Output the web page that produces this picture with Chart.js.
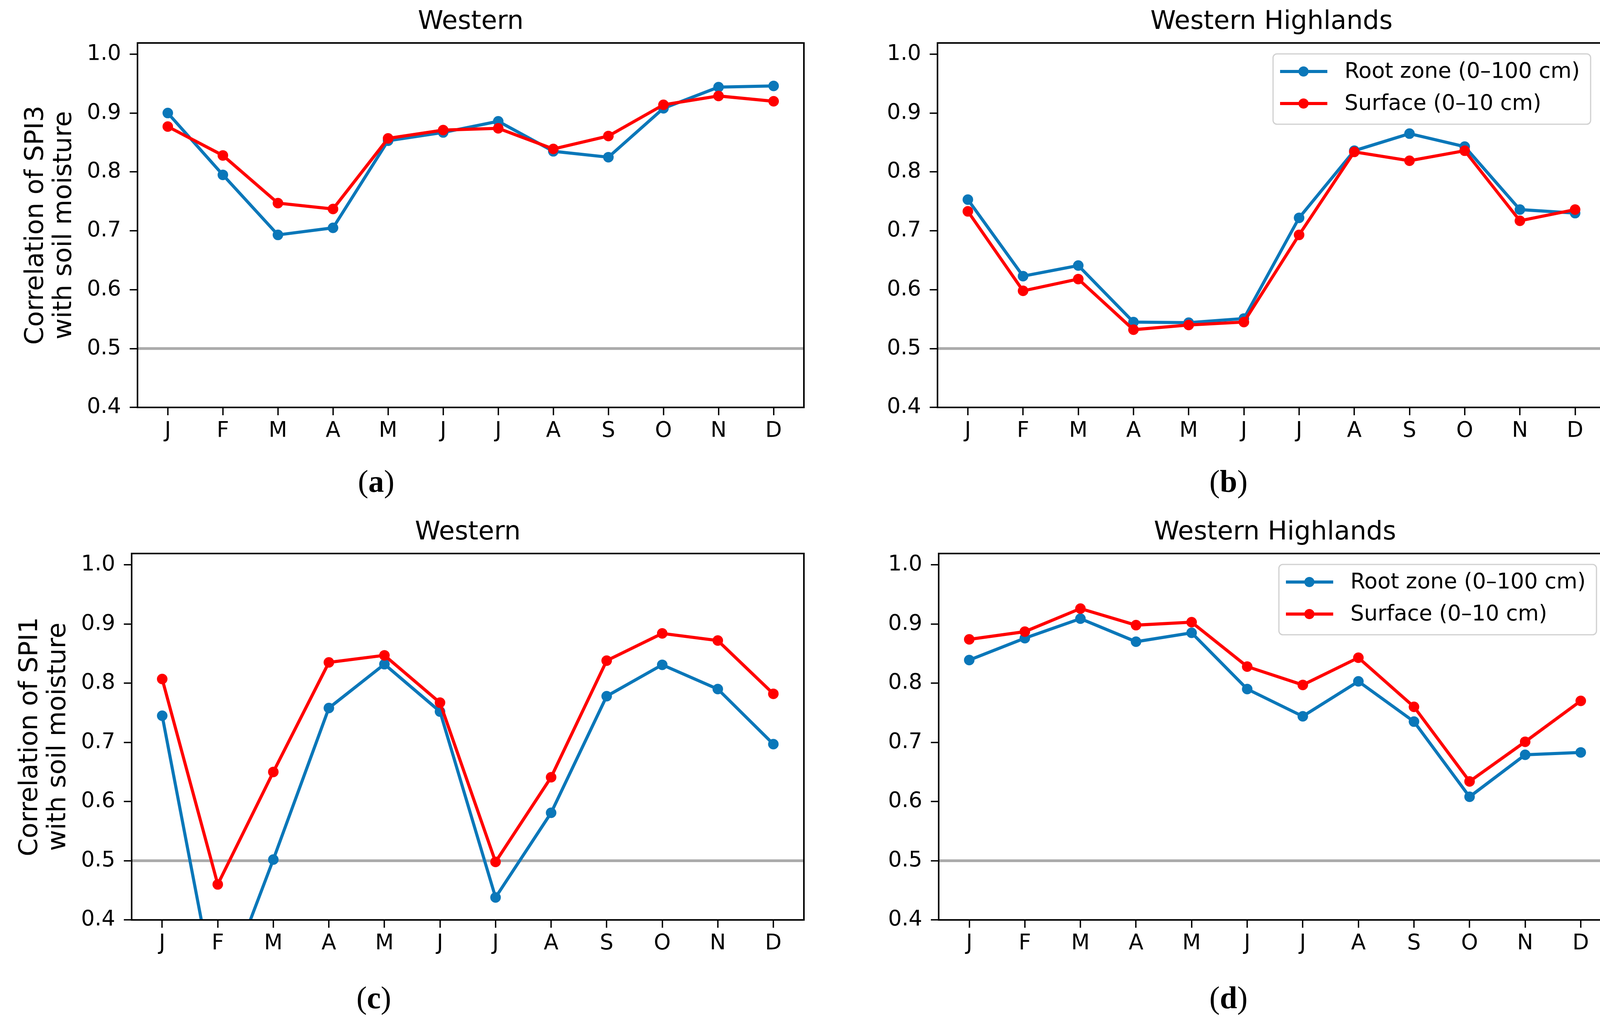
<!DOCTYPE html>
<html>
<head>
<meta charset="utf-8">
<script src="https://cdn.jsdelivr.net/npm/chart.js@4.4.1/dist/chart.umd.min.js"></script>
<style>
  body { margin: 0; background: #fff; width: 4162px; height: 2624px; position: relative; overflow: hidden; }
  canvas { position: absolute; }
  .sub { position: absolute; font-family: 'Liberation Serif', 'Times New Roman', serif; font-size: 80px;
         line-height: 1; transform: translate(-50%, -50%); color: #000; }
</style>
</head>
<body>
<canvas id="cA"></canvas>
<canvas id="cB"></canvas>
<canvas id="cC"></canvas>
<canvas id="cD"></canvas>
<div class="sub" style="left:963px; top:1232px">(<b>a</b>)</div>
<div class="sub" style="left:3145px; top:1232px">(<b>b</b>)</div>
<div class="sub" style="left:957px; top:2554px">(<b>c</b>)</div>
<div class="sub" style="left:3145px; top:2554px">(<b>d</b>)</div>
<script>
// data
const months = ["J", "F", "M", "A", "M", "J", "J", "A", "S", "O", "N", "D"];
const yTicks = [0.4, 0.5, 0.6, 0.7, 0.8, 0.9, 1.0];
const seriesNames = ["Root zone (0–100 cm)", "Surface (0–10 cm)"];
const threshold = 0.5;

// SPI3, Western
const rootA = [0.900, 0.795, 0.693, 0.705, 0.853, 0.867, 0.886, 0.835, 0.825, 0.908, 0.944, 0.946];
const surfA = [0.877, 0.828, 0.747, 0.737, 0.857, 0.871, 0.874, 0.839, 0.861, 0.914, 0.929, 0.920];
// SPI3, Western Highlands
const rootB = [0.753, 0.623, 0.641, 0.545, 0.544, 0.551, 0.722, 0.836, 0.865, 0.843, 0.736, 0.730];
const surfB = [0.733, 0.598, 0.618, 0.532, 0.540, 0.545, 0.693, 0.834, 0.819, 0.836, 0.717, 0.736];
// SPI1, Western
const rootC = [0.745, 0.255, 0.502, 0.758, 0.832, 0.752, 0.438, 0.581, 0.778, 0.831, 0.790, 0.697];
const surfC = [0.807, 0.460, 0.650, 0.835, 0.847, 0.767, 0.498, 0.641, 0.838, 0.884, 0.872, 0.782];
// SPI1, Western Highlands
const rootD = [0.839, 0.876, 0.909, 0.870, 0.885, 0.790, 0.744, 0.803, 0.735, 0.608, 0.679, 0.683];
const surfD = [0.874, 0.887, 0.926, 0.898, 0.903, 0.828, 0.797, 0.843, 0.760, 0.634, 0.701, 0.770];

const BLUE = "#0a77b9";
const RED = "#ff0000";
const GREY = "#ababab";
const sans = "'DejaVu Sans', sans-serif";
const xMin = -0.55, xMax = 11.55;

const toPts = arr => arr.map((v, i) => ({ x: i, y: v }));

const panels = [
    { id: "cA", title: "Western", root: rootA, surf: surfA, ylabel: ["Correlation of SPI3", "with soil moisture"], legend: false, box: [352, 110, 2058, 1043] },
    { id: "cB", title: "Western Highlands", root: rootB, surf: surfB, ylabel: null, legend: true, box: [2400, 110, 4110, 1043] },
    { id: "cC", title: "Western", root: rootC, surf: surfC, ylabel: ["Correlation of SPI1", "with soil moisture"], legend: false, box: [337, 1417, 2058, 2355] },
    { id: "cD", title: "Western Highlands", root: rootD, surf: surfD, ylabel: null, legend: true, box: [2403, 1417, 4125, 2355] }
];

// frame, title, y label and boxed legend
function decorPlugin(p) {
    return {
        id: "decor",
        afterDatasetsDraw(chart) {
            const ctx = chart.ctx, a = chart.chartArea;
            ctx.save();
            ctx.strokeStyle = "#000";
            ctx.lineWidth = 4;
            ctx.strokeRect(a.left, a.top, a.right - a.left, a.bottom - a.top);

            ctx.fillStyle = "#000";
            ctx.font = "66px " + sans;
            ctx.textAlign = "center";
            ctx.textBaseline = "middle";
            ctx.fillText(p.title, (a.left + a.right) / 2, a.top - 53);

            if (p.ylabel) {
                ctx.save();
                ctx.translate(a.left, (a.top + a.bottom) / 2);
                ctx.rotate(-Math.PI / 2);
                ctx.font = "66px " + sans;
                ctx.fillText(p.ylabel[0], 0, -259);
                ctx.fillText(p.ylabel[1], 0, -187);
                ctx.restore();
            }

            if (p.legend) {
                const w = 813, h = 180;
                const lx = a.right - 38 - w, ly = a.top + 28;
                ctx.beginPath();
                ctx.roundRect(lx, ly, w, h, 10);
                ctx.fillStyle = "rgba(255,255,255,0.85)";
                ctx.fill();
                ctx.strokeStyle = "#d0d0d0";
                ctx.lineWidth = 3;
                ctx.stroke();
                const rows = [[seriesNames[0], BLUE], [seriesNames[1], RED]];
                rows.forEach((r, k) => {
                    const cy = ly + 45 + k * 82;
                    ctx.strokeStyle = r[1];
                    ctx.lineWidth = 8;
                    ctx.beginPath();
                    ctx.moveTo(lx + 18, cy);
                    ctx.lineTo(lx + 139, cy);
                    ctx.stroke();
                    ctx.fillStyle = r[1];
                    ctx.beginPath();
                    ctx.arc(lx + 78, cy, 13, 0, Math.PI * 2);
                    ctx.fill();
                    ctx.fillStyle = "#000";
                    ctx.font = "55px " + sans;
                    ctx.textAlign = "left";
                    ctx.fillText(r[0], lx + 183, cy + 2);
                });
            }
            ctx.restore();
        }
    };
}

function lineSet(label, values, color, order) {
    return {
        label: label,
        data: toPts(values),
        borderColor: color,
        backgroundColor: color,
        pointBackgroundColor: color,
        borderWidth: 8,
        pointRadius: 13.5,
        pointBorderWidth: 0,
        pointHoverRadius: 13.5,
        tension: 0,
        clip: 0,
        order: order
    };
}

function makePanel(p) {
    const L = 340, T = 110, R = 40, B = 120;
    const cv = document.getElementById(p.id);
    const w = p.box[2] - p.box[0] + L + R;
    const h = p.box[3] - p.box[1] + T + B;
    cv.width = w; cv.height = h;
    cv.style.width = w + "px"; cv.style.height = h + "px";
    cv.style.left = (p.box[0] - L) + "px";
    cv.style.top = (p.box[1] - T) + "px";

    const tickFont = { family: sans, size: 55 };
    new Chart(cv, {
        type: "line",
        data: {
            datasets: [
                lineSet(seriesNames[1], p.surf, RED, 1),
                lineSet(seriesNames[0], p.root, BLUE, 2),
                {
                    label: "threshold",
                    data: [{ x: xMin, y: threshold }, { x: xMax, y: threshold }],
                    borderColor: GREY, borderWidth: 7, pointRadius: 0, clip: 0, order: 3
                }
            ]
        },
        options: {
            responsive: false,
            animation: false,
            devicePixelRatio: 1,
            layout: { padding: { top: T, right: R, left: 0, bottom: 0 } },
            plugins: { legend: { display: false }, tooltip: { enabled: false }, title: { display: false } },
            scales: {
                x: {
                    type: "linear", min: xMin, max: xMax,
                    afterBuildTicks: s => { s.ticks = months.map((m, i) => ({ value: i })); },
                    afterFit: s => { s.height = B; },
                    ticks: { callback: v => months[v], font: tickFont, color: "#000", padding: 8, maxRotation: 0, autoSkip: false },
                    grid: { drawOnChartArea: false, color: "#000", lineWidth: 3.5, tickLength: 20 },
                    border: { display: false }
                },
                y: {
                    min: 0.4, max: 1.019,
                    afterBuildTicks: s => { s.ticks = yTicks.map(v => ({ value: v })); },
                    afterFit: s => { s.width = L; },
                    ticks: { callback: v => v.toFixed(1), font: tickFont, color: "#000", padding: 22, autoSkip: false },
                    grid: { drawOnChartArea: false, color: "#000", lineWidth: 3.5, tickLength: 20 },
                    border: { display: false }
                }
            }
        },
        plugins: [decorPlugin(p)]
    });
}

panels.forEach(makePanel);
</script>
</body>
</html>
